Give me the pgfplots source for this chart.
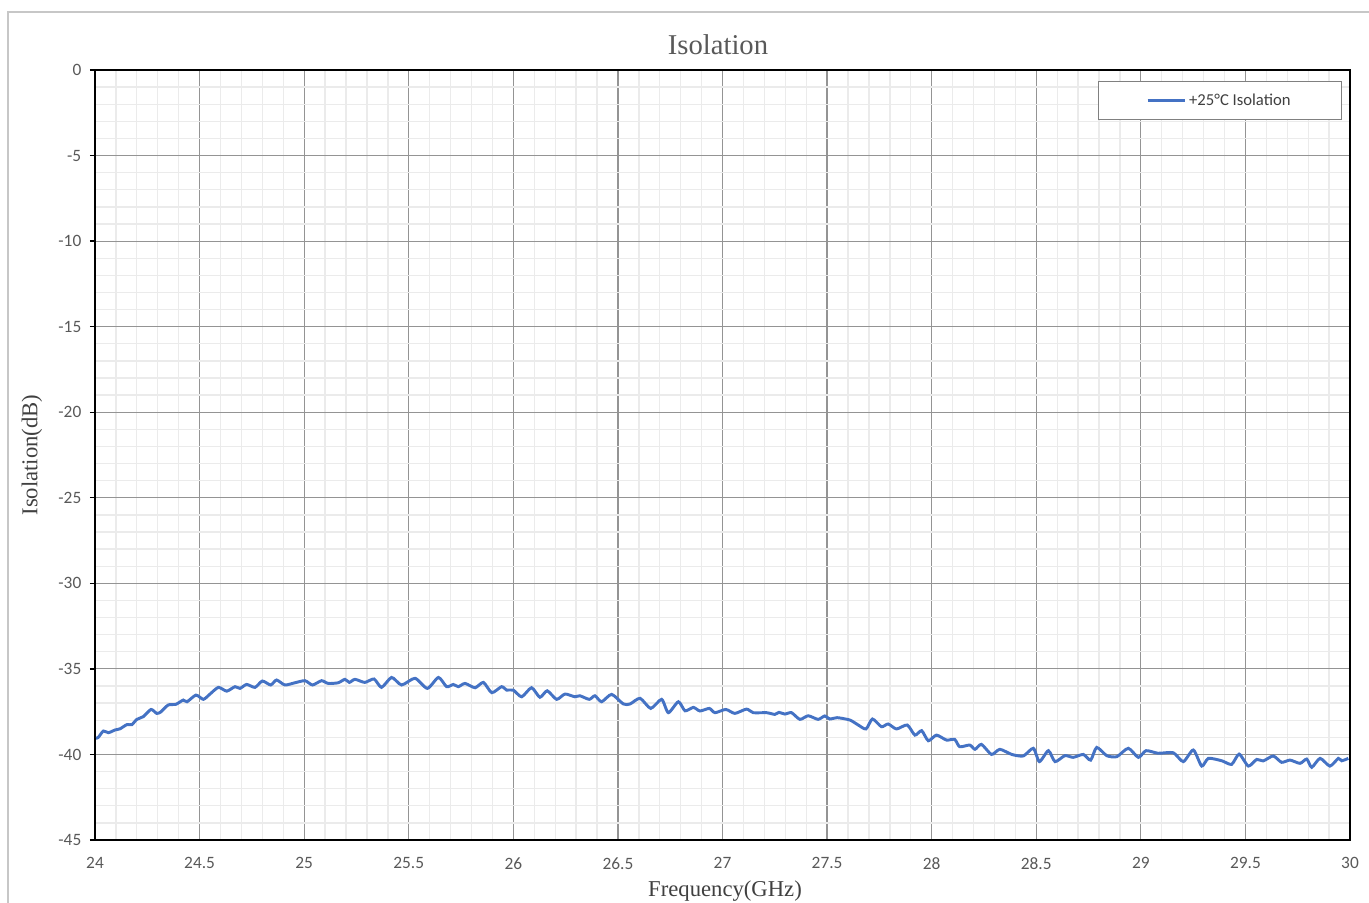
\documentclass[border=0pt]{standalone}
\usepackage{fontspec}
\setmainfont{Liberation Serif}
\setsansfont{Carlito}
\usepackage{pgfplots}
\pgfplotsset{compat=1.18}
\definecolor{curve}{HTML}{4472C4}
\definecolor{txtgray}{HTML}{595959}
\definecolor{labgray}{HTML}{404040}
\begin{document}
\begin{tikzpicture}
\begin{axis}[
  scale only axis,
  width=941.25pt, height=577.5pt,
  xmin=24, xmax=30, ymin=-45, ymax=0,
  xtick={24,24.5,25,25.5,26,26.5,27,27.5,28,28.5,29,29.5,30},
  ytick={-45,-40,-35,-30,-25,-20,-15,-10,-5,0},
  minor xtick={24.1,24.2,24.3,24.4,24.6,24.7,24.8,24.9,25.1,25.2,25.3,25.4,25.6,25.7,25.8,25.9,26.1,26.2,26.3,26.4,26.6,26.7,26.8,26.9,27.1,27.2,27.3,27.4,27.6,27.7,27.8,27.9,28.1,28.2,28.3,28.4,28.6,28.7,28.8,28.9,29.1,29.2,29.3,29.4,29.6,29.7,29.8,29.9},
  minor y tick num=4,
  grid=both,
  major grid style={color=black!42, line width=0.9pt},
  minor grid style={color=black!8, line width=1pt},
  axis line style={black, line width=1.3pt},
  xtick style={draw=none},
  minor tick style={draw=none},
  ytick style={black, line width=1pt},
  ytick pos=left,
  tick align=outside,
  major tick length=3.75pt,
  /pgf/number format/assume math mode=true,
  xticklabel style={font=\sffamily\fontsize{13}{15}\selectfont, text=txtgray, yshift=-6pt},
  yticklabel style={font=\sffamily\fontsize{13}{15}\selectfont, text=txtgray, xshift=-3pt},
  xticklabels={24,24.5,25,25.5,26,26.5,27,27.5,28,28.5,29,29.5,30},
  yticklabels={-45,-40,-35,-30,-25,-20,-15,-10,-5,0},
  title={Isolation},
  title style={at={(axis description cs:0.4964,1.022)}, anchor=center, font=\fontsize{21.5}{24}\selectfont, text=txtgray},
  xlabel={Frequency(GHz)},
  xlabel style={at={(axis description cs:0.502,-0.0662)}, anchor=center, font=\fontsize{17}{20}\selectfont, text=labgray},
  ylabel={Isolation(dB)},
  ylabel style={at={(axis description cs:-0.0502,0.5)}, anchor=center, font=\fontsize{17}{20}\selectfont, text=labgray},
  legend style={at={(axis description cs:0.9936,0.9857)}, anchor=north east,
     draw=black!50, line width=1pt, fill=white,
     font=\sffamily\fontsize{12.5}{14}\selectfont, text=labgray,
     inner xsep=36pt, inner ysep=7pt},
  legend image code/.code={\draw[#1] (0pt,0pt) -- (28pt,0pt);},
]
\addplot[curve, line width=2.2pt, smooth, tension=0.4] coordinates {
(24.005,-39.05)
(24.016,-39.0)
(24.04,-38.63)
(24.064,-38.73)
(24.096,-38.57)
(24.12,-38.5)
(24.152,-38.26)
(24.176,-38.26)
(24.2,-37.95)
(24.231,-37.79)
(24.268,-37.37)
(24.295,-37.6)
(24.314,-37.52)
(24.35,-37.11)
(24.387,-37.07)
(24.422,-36.82)
(24.44,-36.92)
(24.483,-36.53)
(24.518,-36.78)
(24.55,-36.47)
(24.59,-36.08)
(24.63,-36.3)
(24.669,-36.04)
(24.693,-36.14)
(24.725,-35.91)
(24.765,-36.08)
(24.80,-35.71)
(24.84,-35.94)
(24.868,-35.65)
(24.908,-35.94)
(24.956,-35.81)
(25.004,-35.69)
(25.04,-35.94)
(25.083,-35.69)
(25.115,-35.85)
(25.163,-35.81)
(25.195,-35.61)
(25.216,-35.79)
(25.243,-35.61)
(25.29,-35.79)
(25.334,-35.59)
(25.37,-36.08)
(25.418,-35.5)
(25.466,-35.94)
(25.53,-35.55)
(25.589,-36.14)
(25.642,-35.5)
(25.681,-36.04)
(25.713,-35.91)
(25.737,-36.04)
(25.769,-35.85)
(25.817,-36.1)
(25.857,-35.79)
(25.897,-36.39)
(25.944,-36.04)
(25.968,-36.24)
(26.0,-36.24)
(26.04,-36.63)
(26.087,-36.1)
(26.127,-36.66)
(26.162,-36.28)
(26.207,-36.78)
(26.247,-36.47)
(26.294,-36.63)
(26.318,-36.57)
(26.363,-36.78)
(26.39,-36.57)
(26.422,-36.92)
(26.47,-36.49)
(26.526,-37.05)
(26.558,-37.05)
(26.606,-36.72)
(26.657,-37.31)
(26.709,-36.78)
(26.741,-37.56)
(26.789,-36.92)
(26.821,-37.45)
(26.861,-37.25)
(26.892,-37.46)
(26.937,-37.31)
(26.964,-37.56)
(27.016,-37.37)
(27.059,-37.6)
(27.115,-37.35)
(27.147,-37.56)
(27.211,-37.56)
(27.25,-37.66)
(27.27,-37.54)
(27.298,-37.64)
(27.33,-37.56)
(27.37,-37.95)
(27.41,-37.74)
(27.457,-37.95)
(27.489,-37.75)
(27.513,-37.93)
(27.548,-37.85)
(27.609,-37.99)
(27.649,-38.28)
(27.686,-38.51)
(27.717,-37.93)
(27.76,-38.38)
(27.792,-38.22)
(27.832,-38.51)
(27.883,-38.28)
(27.92,-38.87)
(27.952,-38.61)
(27.984,-39.2)
(28.023,-38.87)
(28.071,-39.16)
(28.11,-39.12)
(28.134,-39.55)
(28.182,-39.45)
(28.207,-39.7)
(28.238,-39.41)
(28.286,-40.0)
(28.326,-39.7)
(28.383,-40.0)
(28.438,-40.09)
(28.486,-39.64)
(28.515,-40.42)
(28.558,-39.78)
(28.59,-40.42)
(28.637,-40.07)
(28.677,-40.17)
(28.725,-40.0)
(28.76,-40.33)
(28.789,-39.59)
(28.837,-40.07)
(28.885,-40.13)
(28.94,-39.64)
(28.988,-40.17)
(29.025,-39.78)
(29.083,-39.93)
(29.155,-39.9)
(29.203,-40.42)
(29.251,-39.74)
(29.291,-40.68)
(29.323,-40.23)
(29.387,-40.37)
(29.434,-40.58)
(29.47,-39.98)
(29.514,-40.68)
(29.554,-40.29)
(29.585,-40.38)
(29.633,-40.09)
(29.673,-40.46)
(29.713,-40.33)
(29.761,-40.52)
(29.793,-40.27)
(29.817,-40.75)
(29.857,-40.23)
(29.904,-40.68)
(29.944,-40.23)
(29.96,-40.37)
(29.992,-40.23)
};
\addlegendentry{+25°C Isolation}
\coordinate (SW) at (rel axis cs:0,0);
\coordinate (NE) at (rel axis cs:1,1);
\end{axis}
\draw[black!22, line width=1.5pt] ([xshift=-65.25pt,yshift=-47pt]SW) |- ([xshift=15pt,yshift=43.5pt]NE);
\pgfresetboundingbox
\useasboundingbox ([xshift=-71.25pt,yshift=-46.5pt]SW) rectangle ([xshift=14.25pt,yshift=52.5pt]NE);
\end{tikzpicture}
\end{document}
